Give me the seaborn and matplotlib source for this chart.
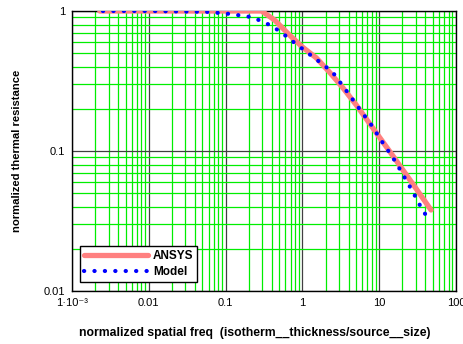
import matplotlib
matplotlib.use("Agg")
import matplotlib.pyplot as plt
import matplotlib.ticker as mticker
import seaborn as sns
import pandas as pd

# ANSYS results
ansys_x = [0.0023, 0.01, 0.05, 0.294, 0.433, 0.678, 1.0, 1.52, 2.24, 3.31, 5.03,
           8.11, 14.8, 26.9, 47.3]
ansys_y = [1.0, 1.0, 1.0, 1.0, 0.863, 0.674, 0.553, 0.462, 0.367, 0.286, 0.213,
           0.148, 0.0936, 0.059, 0.0379]

# Model results
model_x = [0.00253, 0.01, 0.0652, 0.0879, 0.1186, 0.16, 0.216, 0.291, 0.399, 0.538,
           0.726, 0.979, 1.34, 1.80, 2.48, 3.09, 3.96, 4.88, 6.07, 7.64, 9.33, 11.3,
           13.8, 16.8, 20.1, 24.3, 28.7, 33.8, 40.4]
model_y = [1.0, 1.0, 0.984, 0.963, 0.952, 0.926, 0.906, 0.848, 0.782, 0.700,
           0.614, 0.542, 0.475, 0.42, 0.365, 0.31, 0.258, 0.220, 0.186, 0.158, 0.133,
           0.113, 0.0963, 0.0817, 0.0685, 0.0574, 0.0487, 0.0411, 0.0349]

x_ticks = [0.001, 0.01, 0.1, 1, 10, 100]
x_tick_labels = ["1·10⁻³", "0.01", "0.1", "1", "10", "100"]
y_ticks = [0.01, 0.1, 1]
y_tick_labels = ["0.01", "0.1", "1"]

sns.set_theme(style="white")
plt.rcParams["font.family"] = ["Liberation Sans", "DejaVu Sans"]
plt.rcParams["text.color"] = "black"
plt.rcParams["axes.labelcolor"] = "black"

fig = plt.figure(figsize=(4.64, 3.44), dpi=100)
ax = fig.add_axes([72 / 464, 53 / 344, 384 / 464, 280 / 344])

df_a = pd.DataFrame({"x": ansys_x, "y": ansys_y})
df_m = pd.DataFrame({"x": model_x, "y": model_y})

sns.lineplot(data=df_a, x="x", y="y", ax=ax, color="#ff8080", linewidth=3.8,
             label="ANSYS", estimator=None, zorder=3)
sns.lineplot(data=df_m, x="x", y="y", ax=ax, color="#0000ff", linewidth=3.0,
             linestyle=(0, (0.05, 2.45)), dash_capstyle="round",
             label="Model", estimator=None, zorder=4)

ax.set_xscale("log")
ax.set_yscale("log")
ax.set_xlim(0.001, 100)
ax.set_ylim(0.01, 1)

ax.xaxis.set_major_locator(mticker.FixedLocator(x_ticks))
ax.xaxis.set_major_formatter(mticker.FixedFormatter(x_tick_labels))
ax.yaxis.set_major_locator(mticker.FixedLocator(y_ticks))
ax.yaxis.set_major_formatter(mticker.FixedFormatter(y_tick_labels))
ax.xaxis.set_minor_locator(mticker.LogLocator(base=10, subs=range(2, 10), numticks=20))
ax.yaxis.set_minor_locator(mticker.LogLocator(base=10, subs=range(2, 10), numticks=20))
ax.xaxis.set_minor_formatter(mticker.NullFormatter())
ax.yaxis.set_minor_formatter(mticker.NullFormatter())

ax.grid(which="minor", color="#00ee00", linewidth=0.9)
ax.grid(which="major", color="#404040", linewidth=0.9)
ax.set_axisbelow(True)
ax.tick_params(which="both", length=0, labelsize=8, colors="black", pad=5)

for s in ax.spines.values():
    s.set_color("black")
    s.set_linewidth(1.0)
    s.set_visible(True)

ax.set_xlabel("normalized spatial freq  (isotherm__thickness/source__size)",
              fontsize=8.8, fontweight="bold", labelpad=13.5, color="black")
ax.xaxis.label.set_x(0.477)
ax.set_ylabel("normalized thermal resistance", fontsize=8.1, fontweight="bold",
              labelpad=15.5, color="black")

leg = ax.legend(loc="lower left", bbox_to_anchor=(0.0208, 0.032), borderaxespad=0,
                fancybox=False, frameon=True, edgecolor="black", framealpha=1,
                handlelength=5.5, borderpad=0.3, labelspacing=0.4,
                handletextpad=0.4, prop={"weight": "bold", "size": 8.5})
leg.get_frame().set_linewidth(1.0)
for t in leg.get_texts():
    t.set_color("black")

fig.savefig("out.png", dpi=100, facecolor="white")
